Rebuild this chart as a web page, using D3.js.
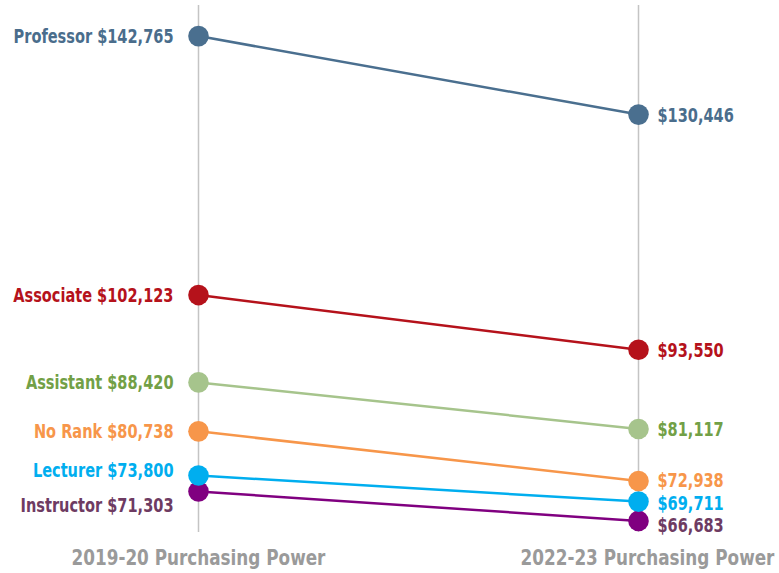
<!DOCTYPE html>
<html>
<head>
<meta charset="utf-8">
<script src="https://cdn.jsdelivr.net/npm/d3@7"></script>
<style>
  body { margin: 0; background: #fff; }
  text { font-family: "DejaVu Sans Condensed", "DejaVu Sans", sans-serif; font-weight: bold; }
</style>
</head>
<body>
<div id="chart"></div>
<script>
// data
const ranks = ["Professor", "Associate", "Assistant", "No Rank", "Lecturer", "Instructor"];
const power2019 = [142765, 102123, 88420, 80738, 73800, 71303];
const power2022 = [130446, 93550, 81117, 72938, 69711, 66683];
const periods = ["2019-20 Purchasing Power", "2022-23 Purchasing Power"];

// colours
const lineColor = ["#4a6f8f", "#b5121b", "#a6c48c", "#f7964a", "#00aeef", "#800080"];
const textColor = ["#4a6d8c", "#b5121b", "#72a046", "#f7964a", "#00aeef", "#6e3b62"];
// small nudges so the crowded labels don't sit on top of each other
const leftNudge = [0, 0, 0, 0, -6, 14];
const rightNudge = [0, 0, 0, -1, 1, 4];

const width = 779;
const height = 573;
const fontSize = 19.5;

const svg = d3.select("#chart").append("svg")
    .attr("width", width)
    .attr("height", height)

const x = d3.scalePoint()
    .domain(periods)
    .range([198.5, 638.5])

const y = d3.scaleLinear()
    .domain([60000, 150000])
    .range([563.5, -10])

const fmt = d3.format("$,")

const rows = ranks.map((r, i) => ({
    rank: r, a: power2019[i], b: power2022[i], i: i
}))

// vertical guides
svg.append("g")
    .selectAll()
    .data(periods)
    .join("line")
        .attr("x1", d => x(d))
        .attr("x2", d => x(d))
        .attr("y1", 5)
        .attr("y2", 532)
        .attr("stroke", "#c4c4c4")
        .attr("stroke-width", 1.5)

// period labels
const periodLabels = svg.append("g")
    .selectAll()
    .data(periods)
    .join("text")
        .attr("class", "period")
        .attr("data-x", (d, i) => x(d) + (i == 1 ? 9 : 0))
        .attr("data-y", 557)
        .attr("dy", "0.36em")
        .attr("text-anchor", "middle")
        .attr("fill", "#9a9a9a")
        .style("font-size", "21px")
        .text(d => d)

// slope lines
svg.append("g")
    .selectAll()
    .data(rows)
    .join("line")
        .attr("x1", x(periods[0]))
        .attr("x2", x(periods[1]))
        .attr("y1", d => y(d.a))
        .attr("y2", d => y(d.b))
        .attr("stroke", d => lineColor[d.i])
        .attr("stroke-width", 2.5)

// dots (bottom ones first so upper dots sit on top like the original)
const dotRows = rows.slice().reverse()
svg.append("g")
    .selectAll()
    .data(dotRows)
    .join("circle")
        .attr("cx", x(periods[0]))
        .attr("cy", d => y(d.a))
        .attr("r", 10.3)
        .attr("fill", d => lineColor[d.i])
svg.append("g")
    .selectAll()
    .data(dotRows)
    .join("circle")
        .attr("cx", x(periods[1]))
        .attr("cy", d => y(d.b))
        .attr("r", 10.3)
        .attr("fill", d => lineColor[d.i])

// left labels
const leftLabels = svg.append("g")
    .selectAll()
    .data(rows)
    .join("text")
        .attr("data-x", x(periods[0]) - 25)
        .attr("data-y", d => y(d.a) + leftNudge[d.i])
        .attr("dy", "0.36em")
        .attr("text-anchor", "end")
        .attr("fill", d => textColor[d.i])
        .style("font-size", fontSize + "px")
        .text(d => d.rank + " " + fmt(d.a))

// right labels
svg.append("g")
    .selectAll()
    .data(rows)
    .join("text")
        .attr("data-x", x(periods[1]) + 19)
        .attr("data-y", d => y(d.b) + rightNudge[d.i])
        .attr("dy", "0.36em")
        .attr("fill", d => textColor[d.i])
        .style("font-size", fontSize + "px")
        .text(d => fmt(d.b))

// the original uses a narrow condensed face, squeeze the text to match
const k = 160 / leftLabels.node().getComputedTextLength()
const kp = 254 / periodLabels.node().getComputedTextLength()
svg.selectAll("text")
    .attr("transform", function() {
        const el = d3.select(this)
        const s = el.classed("period") ? kp : k
        return `translate(${el.attr("data-x")},${el.attr("data-y")}) scale(${s},1)`
    })
</script>
</body>
</html>
